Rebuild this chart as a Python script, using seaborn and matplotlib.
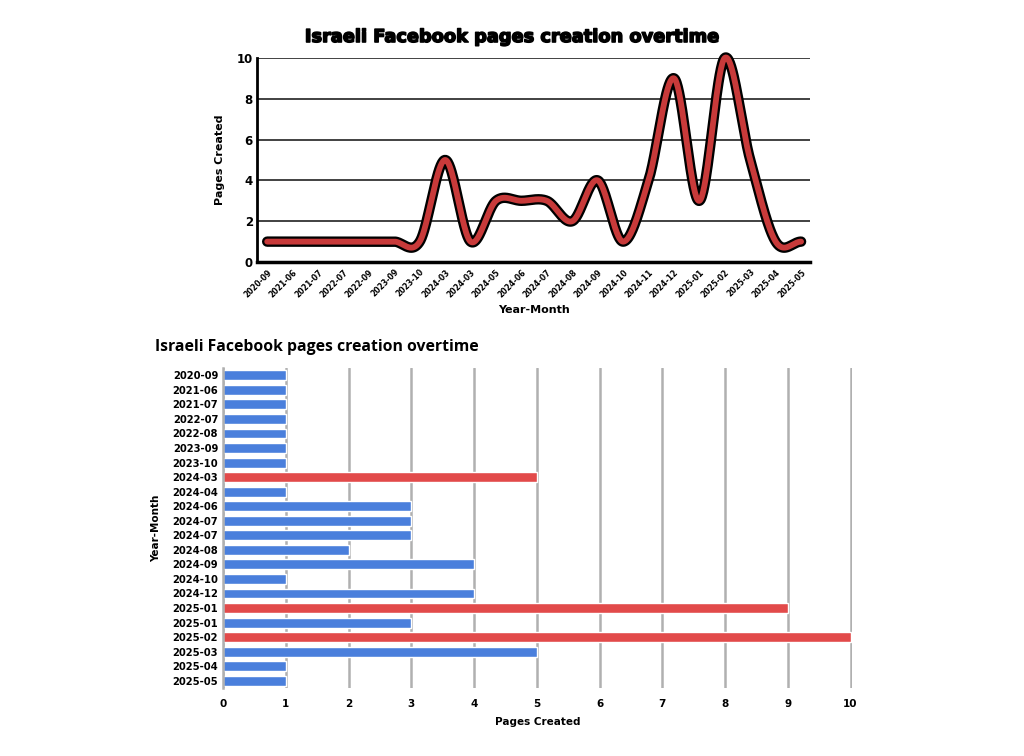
import numpy as np
import pandas as pd
import matplotlib
matplotlib.use("Agg")
import matplotlib.pyplot as plt
import matplotlib.patheffects as pe
import seaborn as sns

# ---- data ----
line_months = ["2020-09", "2021-06", "2021-07", "2022-07", "2022-09", "2023-09",
               "2023-10", "2024-03", "2024-03", "2024-05", "2024-06", "2024-07",
               "2024-08", "2024-09", "2024-10", "2024-11", "2024-12", "2025-01",
               "2025-02", "2025-03", "2025-04", "2025-05"]
line_values = [1, 1, 1, 1, 1, 1, 1, 5, 1, 3, 3, 3, 2, 4, 1, 4, 9, 3, 10, 5, 1, 1]

bar_months = ["2020-09", "2021-06", "2021-07", "2022-07", "2022-08", "2023-09",
              "2023-10", "2024-03", "2024-04", "2024-06", "2024-07", "2024-07",
              "2024-08", "2024-09", "2024-10", "2024-12", "2025-01", "2025-01",
              "2025-02", "2025-03", "2025-04", "2025-05"]
bar_values = [1, 1, 1, 1, 1, 1, 1, 5, 1, 3, 3, 3, 2, 4, 1, 4, 9, 3, 10, 5, 1, 1]
bar_highlight = [False, False, False, False, False, False, False, True, False, False,
                 False, False, False, False, False, False, True, False, True, False,
                 False, False]

title = "Israeli Facebook pages creation overtime"

sns.set_theme(style="white")
plt.rcParams['font.family'] = ['DejaVu Sans']
plt.rcParams.update({"text.color": "black", "axes.labelcolor": "black",
                     "xtick.color": "black", "ytick.color": "black"})


def catmull_rom(x, y, n=40):
    x = np.asarray(x, float)
    y = np.asarray(y, float)
    m = len(x)
    tang = np.zeros(m)
    tang[1:-1] = (y[2:] - y[:-2]) / (x[2:] - x[:-2])
    xs, ys = [], []
    for i in range(m - 1):
        h = x[i + 1] - x[i]
        t = np.linspace(0, 1, n, endpoint=(i == m - 2))
        h00 = 2 * t ** 3 - 3 * t ** 2 + 1
        h10 = t ** 3 - 2 * t ** 2 + t
        h01 = -2 * t ** 3 + 3 * t ** 2
        h11 = t ** 3 - t ** 2
        xs.append(x[i] + t * h)
        ys.append(h00 * y[i] + h10 * h * tang[i] + h01 * y[i + 1] + h11 * h * tang[i + 1])
    return np.concatenate(xs), np.concatenate(ys)


fig = plt.figure(figsize=(10.24, 7.56), dpi=100)
fig.patch.set_facecolor("white")

# ---- top: smoothed line chart ----
ax1 = fig.add_axes([0.251, 0.6534, 0.540, 0.270])
xpos = np.arange(len(line_values))
xs, ys = catmull_rom(xpos, line_values)
sns.lineplot(x=xs, y=ys, ax=ax1, color="#c83a3a", linewidth=4.2, sort=False,
             path_effects=[pe.Stroke(linewidth=7.5, foreground="black"), pe.Normal()],
             solid_capstyle="round")
ax1.set_xlim(-0.4, 21.35)
ax1.set_ylim(0, 10)
for l in ax1.get_lines():
    l.set_clip_on(False)
ax1.set_yticks([0, 2, 4, 6, 8, 10])
ax1.yaxis.grid(True, color="#333333", linewidth=1.3)
ax1.xaxis.grid(False)
ax1.set_axisbelow(True)
ax1.set_xticks(xpos)
ax1.set_xticklabels(line_months, rotation=45, ha="right", rotation_mode="anchor",
                    fontsize=5.6, fontweight="bold")
for t in ax1.get_yticklabels():
    t.set_fontsize(8.5)
    t.set_fontweight("bold")
ax1.tick_params(axis="both", length=0, pad=3)
ax1.tick_params(axis="x", pad=4)
for s in ["top", "right"]:
    ax1.spines[s].set_visible(False)
ax1.spines["left"].set_color("black")
ax1.spines["left"].set_linewidth(2)
ax1.spines["bottom"].set_color("black")
ax1.spines["bottom"].set_linewidth(2.5)
ax1.set_xlabel("Year-Month", fontsize=8, fontweight="bold", labelpad=4)
ax1.set_ylabel("Pages Created", fontsize=8, fontweight="bold", labelpad=8)
fig.text(0.5, 0.951, title, ha="center", va="center", fontsize=12.8,
         fontweight="heavy",
         path_effects=[pe.withStroke(linewidth=1.1, foreground="black")])

# ---- bottom: horizontal bars ----
ax2 = fig.add_axes([0.2178, 0.0899, 0.614, 0.4233])
df = pd.DataFrame({"month": [f"{m}_{i}" for i, m in enumerate(bar_months)],
                   "value": bar_values,
                   "hl": ["hi" if h else "lo" for h in bar_highlight]})
sns.barplot(data=df, y="month", x="value", hue="hl", orient="h",
            palette={"lo": "#4a7fdc", "hi": "#e24a4a"}, dodge=False,
            width=0.68, legend=False, ax=ax2, saturation=1)
ax2.set_yticks(np.arange(len(bar_months)))
ax2.set_yticklabels(bar_months, fontsize=7.2, fontweight="bold")
ax2.set_xlim(0, 10.02)
ax2.set_xticks(range(0, 11))
ax2.set_xticklabels([str(i) for i in range(11)], fontsize=7.5, fontweight="bold")
ax2.xaxis.grid(True, color="#b0b0b0", linewidth=1.8)
ax2.yaxis.grid(False)
ax2.set_axisbelow(True)
ax2.tick_params(axis="both", length=0)
ax2.tick_params(axis="x", pad=8)
for s in ["top", "right", "bottom"]:
    ax2.spines[s].set_visible(False)
ax2.spines["left"].set_color("#b0b0b0")
ax2.spines["left"].set_linewidth(1.8)
ax2.set_xlabel("Pages Created", fontsize=7.5, fontweight="bold", labelpad=6)
ax2.set_ylabel("Year-Month", fontsize=7.5, fontweight="bold", labelpad=8)
fig.text(0.151, 0.541, title, ha="left", va="center", fontsize=11.3,
         fontweight="bold", family=["Open Sans", "DejaVu Sans"])

fig.savefig("out.png", dpi=100, facecolor="white")
